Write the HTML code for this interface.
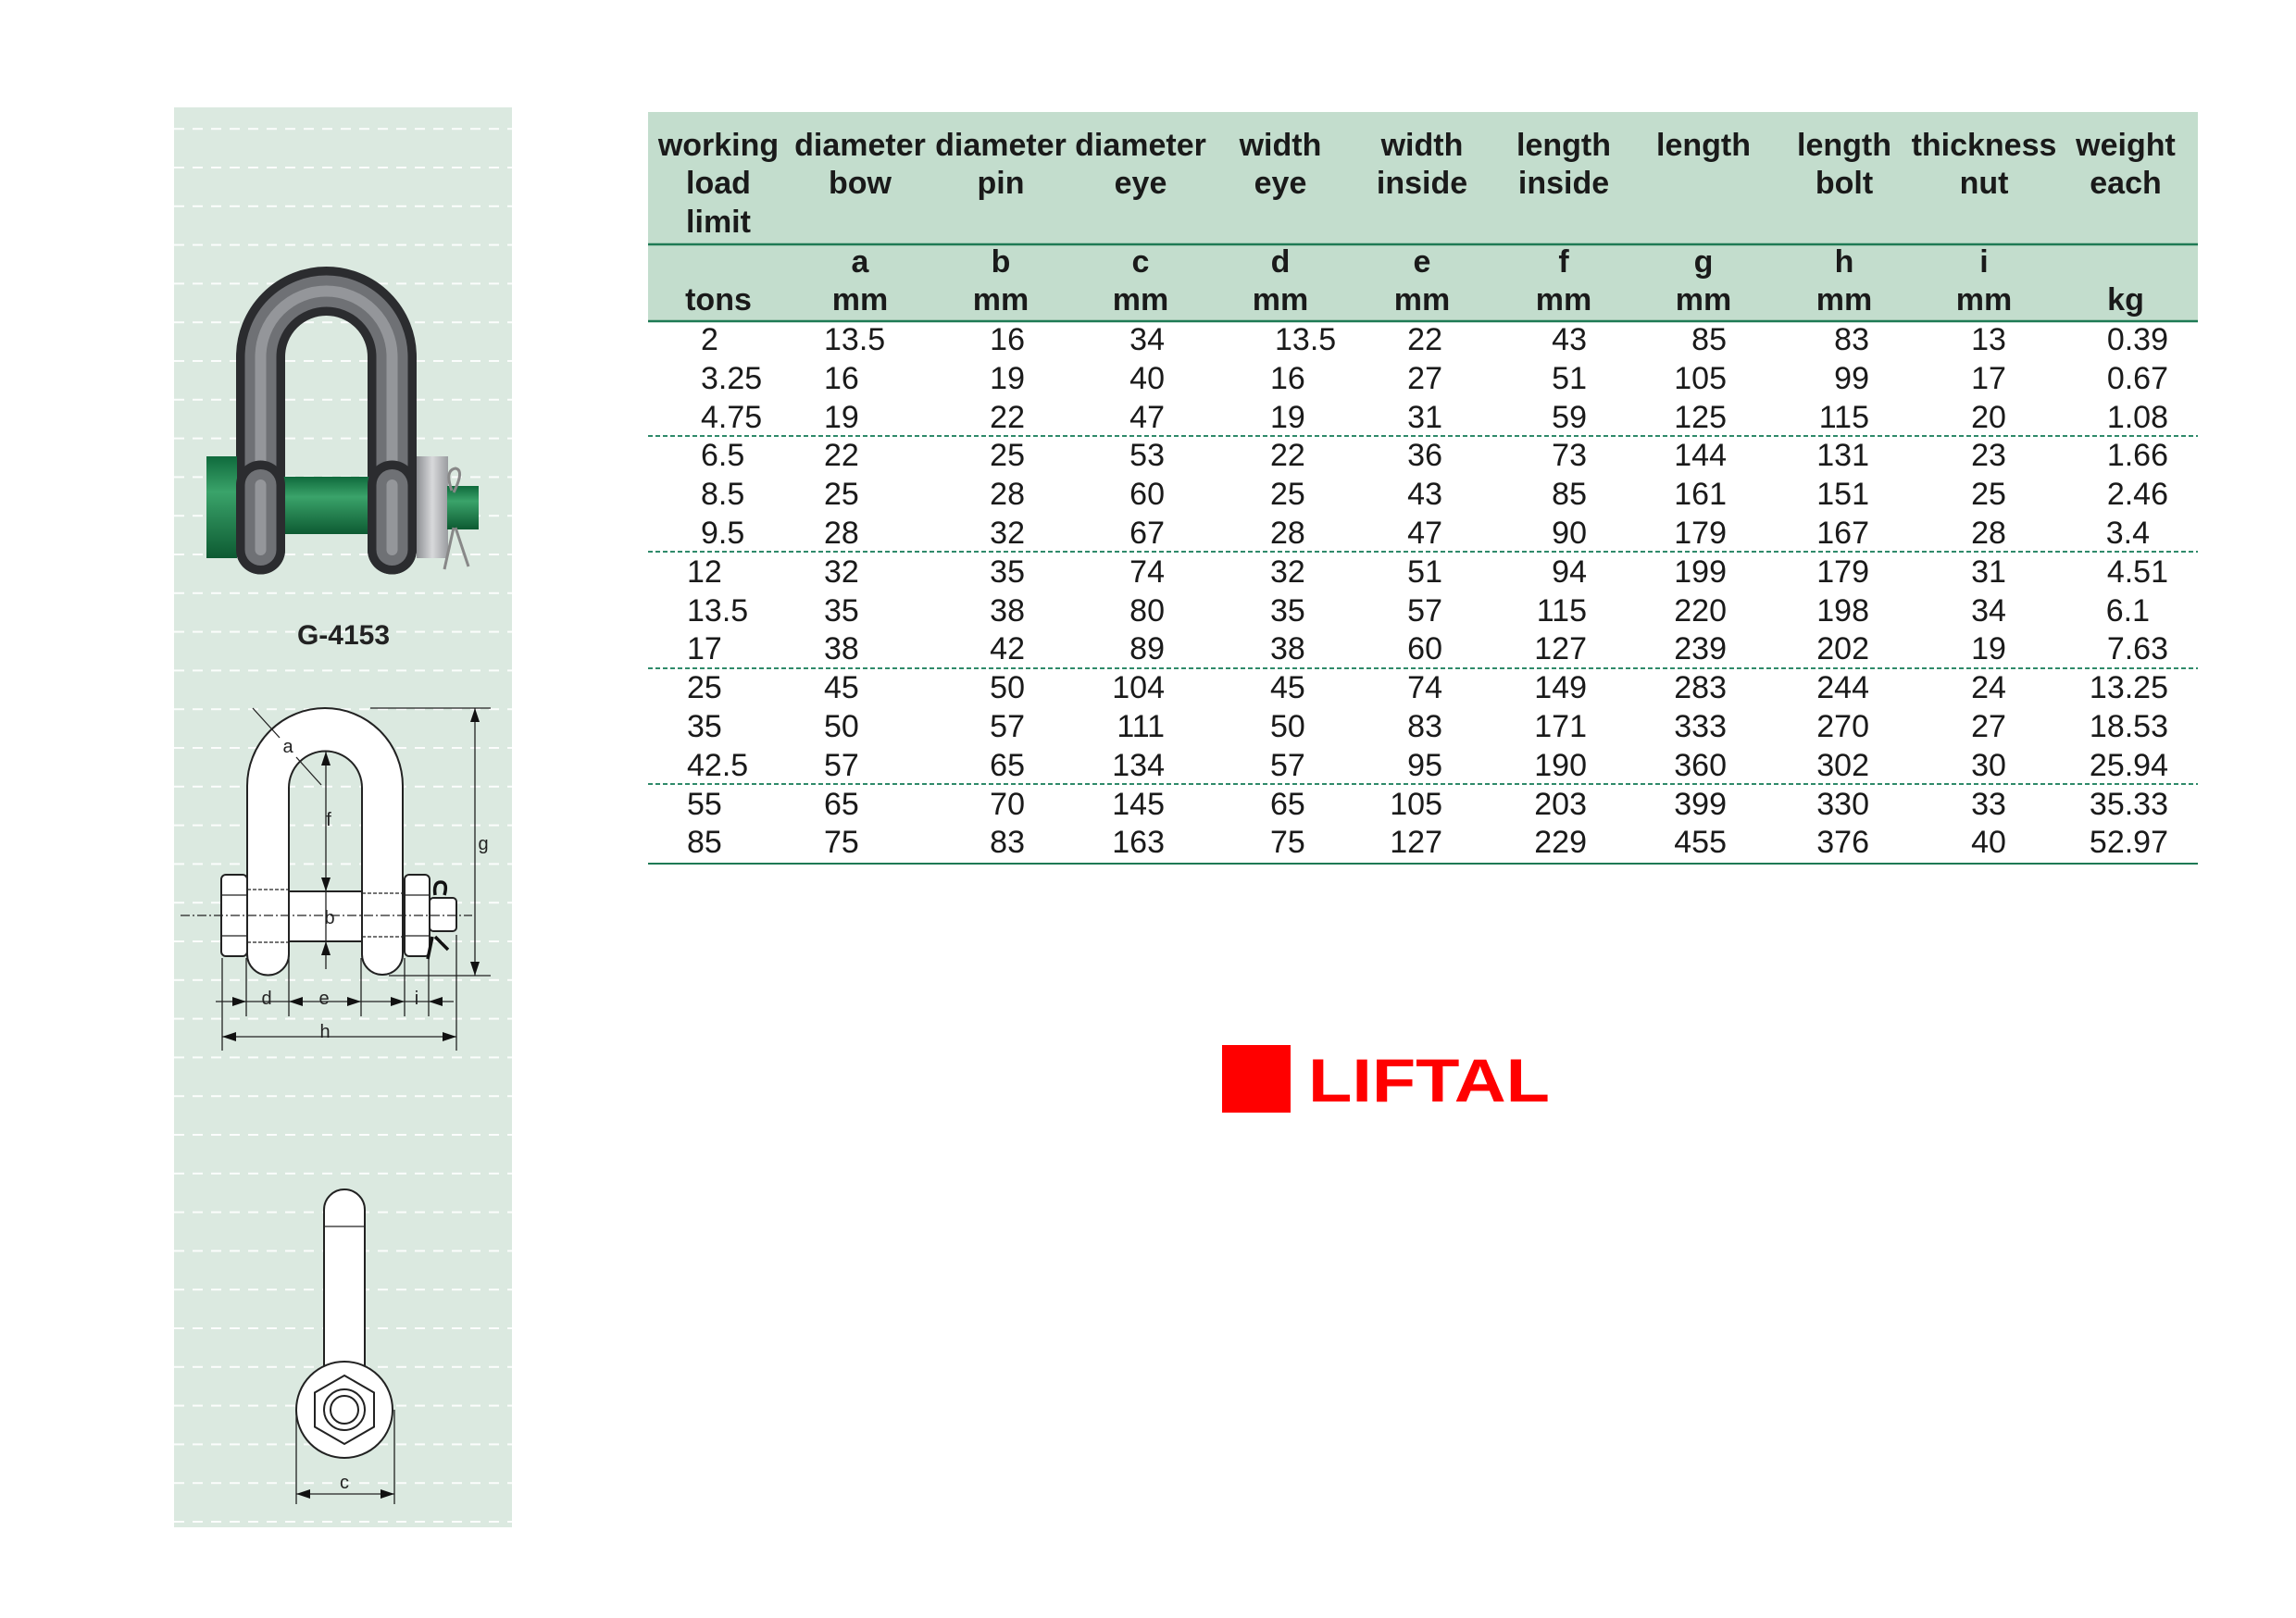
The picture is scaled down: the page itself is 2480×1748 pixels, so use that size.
<!DOCTYPE html>
<html><head><meta charset="utf-8"><style>
html,body{margin:0;padding:0;background:#fff;}
svg{display:block;}
.h{font-family:"Liberation Sans Narrow","Liberation Sans",sans-serif;font-weight:bold;font-size:34px;fill:#1a1a1a;text-anchor:middle;}
.d{font-family:"Liberation Sans Narrow","Liberation Sans",sans-serif;font-size:34px;fill:#1a1a1a;}
.s{font-family:"Liberation Sans",sans-serif;font-size:20px;fill:#222;text-anchor:middle;}
</style></head><body>
<svg width="2480" height="1748" viewBox="0 0 2480 1748" xmlns="http://www.w3.org/2000/svg">
<defs>
<pattern id="dash" x="188" y="180" width="20" height="41.8" patternUnits="userSpaceOnUse">
<rect x="0" y="0" width="11" height="2" fill="#fff"/>
</pattern>
<linearGradient id="grn" x1="0" y1="0" x2="0" y2="1">
<stop offset="0" stop-color="#0f6a3c"/><stop offset="0.35" stop-color="#3aa36a"/><stop offset="1" stop-color="#0d5a32"/>
</linearGradient>
<linearGradient id="nut" x1="0" y1="0" x2="1" y2="0">
<stop offset="0" stop-color="#8e9094"/><stop offset="0.5" stop-color="#d8d9db"/><stop offset="1" stop-color="#9a9ca0"/>
</linearGradient>
</defs>
<!-- panel -->
<rect x="188" y="116" width="365" height="1534" fill="#dbe9e0"/>
<rect x="188" y="116" width="365" height="1534" fill="url(#dash)" opacity="0.9"/>

<!-- photo shackle -->
<path d="M281.5 594 V385.5 A71 71 0 0 1 423.5 385.5 V594" fill="none" stroke="#2b2c2f" stroke-width="53" stroke-linecap="round"/>
<path d="M281.5 594 V385.5 A71 71 0 0 1 423.5 385.5 V594" fill="none" stroke="#6f7175" stroke-width="34" stroke-linecap="round"/>
<path d="M281.5 594 V385.5 A71 71 0 0 1 423.5 385.5 V594" fill="none" stroke="#a4a6aa" stroke-width="12" stroke-linecap="round" opacity="0.7"/>
<rect x="223" y="493" width="33" height="110" fill="url(#grn)"/>
<rect x="300" y="515" width="105" height="62" fill="url(#grn)"/>
<rect x="450" y="493" width="34" height="110" fill="url(#nut)"/>
<rect x="483" y="525" width="34" height="47" fill="url(#grn)"/>
<path d="M488 530 q-8 -22 4 -24 q10 2 -2 26 M490 570 l-10 45 M492 570 l14 42" fill="none" stroke="#888" stroke-width="3"/>
<line x1="281.5" y1="524" x2="281.5" y2="594" stroke="#2b2c2f" stroke-width="53" stroke-linecap="round"/>
<line x1="281.5" y1="524" x2="281.5" y2="594" stroke="#6f7175" stroke-width="34" stroke-linecap="round"/>
<line x1="281.5" y1="524" x2="281.5" y2="594" stroke="#a4a6aa" stroke-width="12" stroke-linecap="round" opacity="0.7"/>
<line x1="423.5" y1="524" x2="423.5" y2="594" stroke="#2b2c2f" stroke-width="53" stroke-linecap="round"/>
<line x1="423.5" y1="524" x2="423.5" y2="594" stroke="#6f7175" stroke-width="34" stroke-linecap="round"/>
<line x1="423.5" y1="524" x2="423.5" y2="594" stroke="#a4a6aa" stroke-width="12" stroke-linecap="round" opacity="0.7"/>
<text x="371" y="696" style="font-family:'Liberation Sans',sans-serif;font-weight:bold;font-size:30px;fill:#222;text-anchor:middle">G-4153</text>

<!-- technical drawing -->
<g fill="#fff" stroke="#222" stroke-width="2">
<path d="M267 1031 V849 A84 84 0 0 1 435 849 V1031 A22 22 0 0 1 391 1031 V851 A39.5 39.5 0 0 0 312 851 V1031 A22.5 22.5 0 0 1 267 1031 Z"/>
<rect x="312" y="963" width="79" height="54"/>
<rect x="239" y="945" width="28" height="88" rx="5"/>
<rect x="437" y="945" width="27" height="88" rx="5"/>
<rect x="464" y="970" width="29" height="36" rx="4"/>
</g>
<g stroke="#222" stroke-width="1.3" fill="none">
<line x1="239" y1="967" x2="267" y2="967"/><line x1="239" y1="1011" x2="267" y2="1011"/>
<line x1="437" y1="967" x2="464" y2="967"/><line x1="437" y1="1011" x2="464" y2="1011"/>
<line x1="267" y1="961" x2="312" y2="961" stroke-dasharray="4,2"/><line x1="267" y1="1018" x2="312" y2="1018" stroke-dasharray="4,2"/>
<line x1="391" y1="965" x2="437" y2="965" stroke-dasharray="4,2"/><line x1="391" y1="1012" x2="437" y2="1012" stroke-dasharray="4,2"/>
<line x1="195" y1="989" x2="510" y2="989" stroke-dasharray="10,3,2,3"/>
<line x1="352" y1="812" x2="352" y2="1047"/>
<line x1="400" y1="765" x2="530" y2="765"/><line x1="420" y1="1054" x2="530" y2="1054"/>
<line x1="513" y1="765" x2="513" y2="1054"/>
<line x1="233" y1="1082" x2="490" y2="1082"/>
<line x1="240" y1="1035" x2="240" y2="1135"/><line x1="266" y1="1035" x2="266" y2="1098"/>
<line x1="312" y1="1035" x2="312" y2="1098"/><line x1="390" y1="1035" x2="390" y2="1098"/>
<line x1="437" y1="1035" x2="437" y2="1098"/><line x1="463" y1="1035" x2="463" y2="1098"/>
<line x1="493" y1="1010" x2="493" y2="1135"/>
<line x1="240" y1="1120" x2="493" y2="1120"/>
<line x1="273" y1="765" x2="302" y2="797"/><line x1="320" y1="818" x2="347" y2="848"/>
</g>
<path d="M470 967 q-2 -14 6 -14 q8 0 4 14 M467 1012 l-5 24 M470 1012 l14 14" fill="none" stroke="#111" stroke-width="3.5"/>
<g fill="#111">
<path d="M513 765 l-5 15 h10z"/><path d="M513 1054 l-5 -15 h10z"/>
<path d="M352 812 l-5 15 h10z"/><path d="M352 963 l-5 -15 h10z"/><path d="M352 1017 l-5 15 h10z"/>
<path d="M266 1082 l-15 -5 v10z"/><path d="M312 1082 l15 -5 v10z"/><path d="M390 1082 l-15 -5 v10z"/>
<path d="M437 1082 l-15 -5 v10z"/><path d="M463 1082 l15 -5 v10z"/>
<path d="M240 1120 l15 -5 v10z"/><path d="M493 1120 l-15 -5 v10z"/>
</g>
<text class="s" x="311" y="813">a</text>
<text class="s" x="355" y="892">f</text>
<text class="s" x="522" y="918">g</text>
<text class="s" x="356" y="998">b</text>
<text class="s" x="288" y="1085">d</text>
<text class="s" x="350" y="1085">e</text>
<text class="s" x="450" y="1085">i</text>
<text class="s" x="351" y="1121">h</text>

<!-- bottom side view -->
<g fill="#fff" stroke="#222" stroke-width="2">
<path d="M350 1307 A22 22 0 0 1 394 1307 V1480 H350 Z"/>
<circle cx="372" cy="1523" r="52"/>
<polygon points="372,1486 404,1504.5 404,1541.5 372,1560 340,1541.5 340,1504.5"/>
<circle cx="372" cy="1523" r="22"/>
<circle cx="372" cy="1523" r="15"/>
</g>
<g stroke="#222" stroke-width="1.3"><line x1="320" y1="1523" x2="320" y2="1625"/><line x1="426" y1="1523" x2="426" y2="1625"/><line x1="320" y1="1614" x2="426" y2="1614"/><line x1="350" y1="1325" x2="394" y2="1325"/></g>
<g fill="#111"><path d="M320 1614 l15 -5 v10z"/><path d="M426 1614 l-15 -5 v10z"/></g>
<text class="s" x="372" y="1608">c</text>

<!-- table -->
<rect x="700" y="121" width="1674" height="226" fill="#c3ddcd"/>
<line x1="700" y1="264" x2="2374" y2="264" stroke="#1e7a55" stroke-width="2.5"/>
<line x1="700" y1="347" x2="2374" y2="347" stroke="#1e7a55" stroke-width="2.5"/>
<line x1="700" y1="933" x2="2374" y2="933" stroke="#1e7a55" stroke-width="2"/>
<g stroke="#2f8a6a" stroke-width="2" stroke-dasharray="5,3">
<line x1="700" y1="471" x2="2374" y2="471"/><line x1="700" y1="596" x2="2374" y2="596"/>
<line x1="700" y1="722" x2="2374" y2="722"/><line x1="700" y1="847" x2="2374" y2="847"/>
</g>
<g class="h">
<text x="776" y="168">working</text><text x="776" y="209">load</text><text x="776" y="251">limit</text>
<text x="929" y="168">diameter</text><text x="929" y="209">bow</text>
<text x="1081" y="168">diameter</text><text x="1081" y="209">pin</text>
<text x="1232" y="168">diameter</text><text x="1232" y="209">eye</text>
<text x="1383" y="168">width</text><text x="1383" y="209">eye</text>
<text x="1536" y="168">width</text><text x="1536" y="209">inside</text>
<text x="1689" y="168">length</text><text x="1689" y="209">inside</text>
<text x="1840" y="168">length</text>
<text x="1992" y="168">length</text><text x="1992" y="209">bolt</text>
<text x="2143" y="168">thickness</text><text x="2143" y="209">nut</text>
<text x="2296" y="168">weight</text><text x="2296" y="209">each</text>
<text x="929" y="294">a</text><text x="1081" y="294">b</text><text x="1232" y="294">c</text><text x="1383" y="294">d</text><text x="1536" y="294">e</text><text x="1689" y="294">f</text><text x="1840" y="294">g</text><text x="1992" y="294">h</text><text x="2143" y="294">i</text>
<text x="776" y="335">tons</text><text x="929" y="335">mm</text><text x="1081" y="335">mm</text><text x="1232" y="335">mm</text><text x="1383" y="335">mm</text><text x="1536" y="335">mm</text><text x="1689" y="335">mm</text><text x="1840" y="335">mm</text><text x="1992" y="335">mm</text><text x="2143" y="335">mm</text><text x="2296" y="335">kg</text>
</g>
<g class="d">
<g text-anchor="start">
<text x="757" y="378">2</text><text x="757" y="420">3.25</text><text x="757" y="462">4.75</text><text x="757" y="503">6.5</text><text x="757" y="545">8.5</text><text x="757" y="587">9.5</text>
<text x="742" y="629">12</text><text x="742" y="671">13.5</text><text x="742" y="712">17</text><text x="742" y="754">25</text><text x="742" y="796">35</text><text x="742" y="838">42.5</text><text x="742" y="880">55</text><text x="742" y="921">85</text>
<text x="890" y="378">13.5</text><text x="890" y="420">16</text><text x="890" y="462">19</text><text x="890" y="503">22</text><text x="890" y="545">25</text><text x="890" y="587">28</text><text x="890" y="629">32</text><text x="890" y="671">35</text><text x="890" y="712">38</text><text x="890" y="754">45</text><text x="890" y="796">50</text><text x="890" y="838">57</text><text x="890" y="880">65</text><text x="890" y="921">75</text>
<text x="1377" y="378">13.5</text><text x="1372" y="420">16</text><text x="1372" y="462">19</text><text x="1372" y="503">22</text><text x="1372" y="545">25</text><text x="1372" y="587">28</text><text x="1372" y="629">32</text><text x="1372" y="671">35</text><text x="1372" y="712">38</text><text x="1372" y="754">45</text><text x="1372" y="796">50</text><text x="1372" y="838">57</text><text x="1372" y="880">65</text><text x="1372" y="921">75</text>
</g>
<g text-anchor="end">
<text x="1107" y="378">16</text><text x="1107" y="420">19</text><text x="1107" y="462">22</text><text x="1107" y="503">25</text><text x="1107" y="545">28</text><text x="1107" y="587">32</text><text x="1107" y="629">35</text><text x="1107" y="671">38</text><text x="1107" y="712">42</text><text x="1107" y="754">50</text><text x="1107" y="796">57</text><text x="1107" y="838">65</text><text x="1107" y="880">70</text><text x="1107" y="921">83</text>
<text x="1258" y="378">34</text><text x="1258" y="420">40</text><text x="1258" y="462">47</text><text x="1258" y="503">53</text><text x="1258" y="545">60</text><text x="1258" y="587">67</text><text x="1258" y="629">74</text><text x="1258" y="671">80</text><text x="1258" y="712">89</text><text x="1258" y="754">104</text><text x="1258" y="796">111</text><text x="1258" y="838">134</text><text x="1258" y="880">145</text><text x="1258" y="921">163</text>
<text x="1558" y="378">22</text><text x="1558" y="420">27</text><text x="1558" y="462">31</text><text x="1558" y="503">36</text><text x="1558" y="545">43</text><text x="1558" y="587">47</text><text x="1558" y="629">51</text><text x="1558" y="671">57</text><text x="1558" y="712">60</text><text x="1558" y="754">74</text><text x="1558" y="796">83</text><text x="1558" y="838">95</text><text x="1558" y="880">105</text><text x="1558" y="921">127</text>
<text x="1714" y="378">43</text><text x="1714" y="420">51</text><text x="1714" y="462">59</text><text x="1714" y="503">73</text><text x="1714" y="545">85</text><text x="1714" y="587">90</text><text x="1714" y="629">94</text><text x="1714" y="671">115</text><text x="1714" y="712">127</text><text x="1714" y="754">149</text><text x="1714" y="796">171</text><text x="1714" y="838">190</text><text x="1714" y="880">203</text><text x="1714" y="921">229</text>
<text x="1865" y="378">85</text><text x="1865" y="420">105</text><text x="1865" y="462">125</text><text x="1865" y="503">144</text><text x="1865" y="545">161</text><text x="1865" y="587">179</text><text x="1865" y="629">199</text><text x="1865" y="671">220</text><text x="1865" y="712">239</text><text x="1865" y="754">283</text><text x="1865" y="796">333</text><text x="1865" y="838">360</text><text x="1865" y="880">399</text><text x="1865" y="921">455</text>
<text x="2019" y="378">83</text><text x="2019" y="420">99</text><text x="2019" y="462">115</text><text x="2019" y="503">131</text><text x="2019" y="545">151</text><text x="2019" y="587">167</text><text x="2019" y="629">179</text><text x="2019" y="671">198</text><text x="2019" y="712">202</text><text x="2019" y="754">244</text><text x="2019" y="796">270</text><text x="2019" y="838">302</text><text x="2019" y="880">330</text><text x="2019" y="921">376</text>
<text x="2342" y="378">0.39</text><text x="2342" y="420">0.67</text><text x="2342" y="462">1.08</text><text x="2342" y="503">1.66</text><text x="2342" y="545">2.46</text><text x="2322" y="587">3.4</text><text x="2342" y="629">4.51</text><text x="2322" y="671">6.1</text><text x="2342" y="712">7.63</text><text x="2342" y="754">13.25</text><text x="2342" y="796">18.53</text><text x="2342" y="838">25.94</text><text x="2342" y="880">35.33</text><text x="2342" y="921">52.97</text>
</g>
<g text-anchor="middle">
<text x="2148" y="378">13</text><text x="2148" y="420">17</text><text x="2148" y="462">20</text><text x="2148" y="503">23</text><text x="2148" y="545">25</text><text x="2148" y="587">28</text><text x="2148" y="629">31</text><text x="2148" y="671">34</text><text x="2148" y="712">19</text><text x="2148" y="754">24</text><text x="2148" y="796">27</text><text x="2148" y="838">30</text><text x="2148" y="880">33</text><text x="2148" y="921">40</text>
</g>
</g>

<!-- logo -->
<rect x="1320" y="1129" width="74" height="73" fill="#ff0000"/>
<text x="1413" y="1190" style="font-family:'Liberation Sans',sans-serif;font-weight:bold;font-size:66px;fill:#ff0000" textLength="261" lengthAdjust="spacingAndGlyphs">LIFTAL</text>
</svg>
</body></html>
